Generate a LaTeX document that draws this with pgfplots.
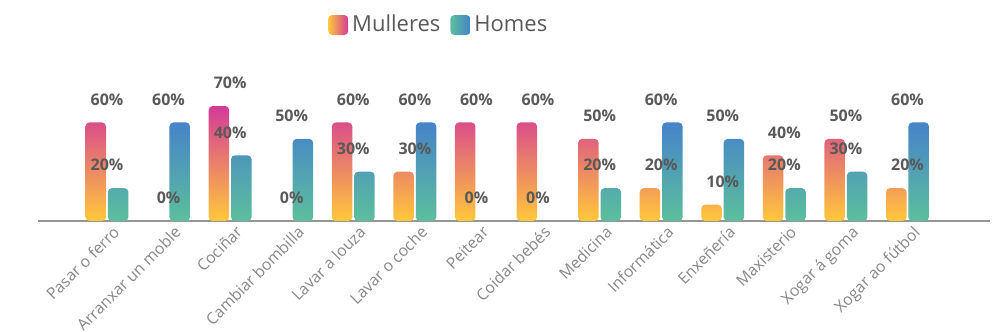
\documentclass[border=0pt]{standalone}
\usepackage{pgfplots}
\pgfplotsset{compat=1.18}
\usepackage{fontspec}
\setmainfont{Open Sans}
\definecolor{pinkT}{RGB}{212,58,152}
\definecolor{yelB}{RGB}{255,200,58}
\definecolor{bluT}{RGB}{70,131,201}
\definecolor{tealB}{RGB}{92,191,156}
\definecolor{lblgray}{RGB}{89,89,89}
\definecolor{tickgray}{RGB}{135,135,135}
\definecolor{axgray}{RGB}{150,150,150}
\begin{document}
\begin{tikzpicture}
\useasboundingbox (0,0) rectangle (496.5pt,166pt);
\begin{axis}[
  at={(19pt,55.5pt)}, anchor=south west,
  scale only axis, width=476pt, height=57.5pt,
  xmin=-1.12, xmax=14.34, ymin=0, ymax=70,
  axis x line*=bottom, axis y line=none,
  x axis line style={draw=axgray, line width=0.6pt, -},
  xtick={0,...,13},
  xticklabels={Pasar o ferro, Arranxar un moble, Cociñar, Cambiar bombilla, Lavar a louza, Lavar o coche, Peitear, Coidar bebés, Medicina, Informática, Enxeñería, Maxisterio, Xogar á goma, Xogar ao fútbol},
  major tick length=0pt,
  xticklabel style={rotate=45, anchor=north east, font=\fontsize{7.9}{9}\selectfont, text=tickgray, inner sep=1pt, xshift=1.5pt, yshift=-2pt},
  clip=false,
  /pgf/number format/assume math mode=true,
  legend style={at={(0.422,1.704)}, anchor=center, draw=none, fill=none, legend columns=2,
    font=\fontsize{11}{13}\selectfont, text=lblgray,
    /tikz/every even column/.append style={column sep=3pt}},
  nodes near coords={\pgfmathprintnumber[fixed,precision=0]{\pgfplotspointmeta}\%},
  every node near coord/.append style={anchor=center, yshift=11.5pt, font=\bfseries\fontsize{8}{9}\selectfont, text=lblgray},
]
\addplot[ybar, bar width=10.25pt, bar shift=-5.6pt, draw=none, top color=pinkT, bottom color=yelB, rounded corners=2pt,
  legend image code/.code={\shade[left color=yelB, right color=pinkT, rounded corners=2pt] (0pt,-5pt) rectangle (10pt,5pt);}]
  coordinates {(0,60) (2,70) (4,60) (5,30) (6,60) (7,60) (8,50) (9,20) (10,10) (11,40) (12,50) (13,20)};
\addlegendentry{Mulleres}
\addplot[ybar, bar width=10.25pt, bar shift=5.6pt, draw=none, top color=bluT, bottom color=tealB, rounded corners=2pt,
  legend image code/.code={\shade[left color=tealB, right color=bluT, rounded corners=2pt] (0pt,-5pt) rectangle (10pt,5pt);}]
  coordinates {(0,20) (1,60) (2,40) (3,50) (4,30) (5,60) (8,20) (9,60) (10,50) (11,20) (12,30) (13,60)};
\addlegendentry{Homes}
\addplot[ybar, forget plot, bar width=10.25pt, bar shift=-5.6pt, draw=none, fill=none]
  coordinates {(1,0) (3,0)};
\addplot[ybar, forget plot, bar width=10.25pt, bar shift=5.6pt, draw=none, fill=none]
  coordinates {(6,0) (7,0)};
\end{axis}
\end{tikzpicture}
\end{document}
